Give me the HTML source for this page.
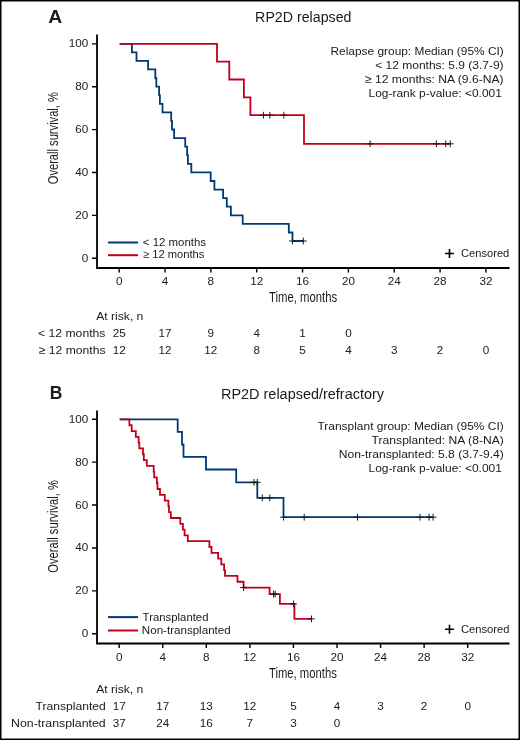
<!DOCTYPE html>
<html><head><meta charset="utf-8"><title>KM</title><style>html,body{margin:0;padding:0;background:#fff;width:520px;height:740px;overflow:hidden}svg{display:block;will-change:transform}</style></head><body>
<svg width="520" height="740" viewBox="0 0 520 740" font-family='"Liberation Sans", sans-serif' fill="#1a1a1a">
<rect x="0" y="0" width="520" height="740" fill="#fff"/>
<rect x="0.75" y="0.75" width="518.5" height="738.5" fill="none" stroke="#000" stroke-width="1.5"/>
<path d="M97.0 34.50V268.90M96.10 268.00H509.5" stroke="#000" stroke-width="1.8" fill="none"/>
<path d="M97.00 258.20H92.00M97.00 215.34H92.00M97.00 172.48H92.00M97.00 129.62H92.00M97.00 86.76H92.00M97.00 43.90H92.00M119.20 268.00V272.50M165.04 268.00V272.50M210.88 268.00V272.50M256.72 268.00V272.50M302.56 268.00V272.50M348.40 268.00V272.50M394.24 268.00V272.50M440.08 268.00V272.50M485.92 268.00V272.50" stroke="#000" stroke-width="1.4" fill="none"/>
<text x="88.30" y="261.70" font-size="11.7" text-anchor="end">0</text>
<text x="88.30" y="218.84" font-size="11.7" text-anchor="end">20</text>
<text x="88.30" y="175.98" font-size="11.7" text-anchor="end">40</text>
<text x="88.30" y="133.12" font-size="11.7" text-anchor="end">60</text>
<text x="88.30" y="90.26" font-size="11.7" text-anchor="end">80</text>
<text x="88.30" y="47.40" font-size="11.7" text-anchor="end">100</text>
<text x="119.20" y="285.40" font-size="11.7" text-anchor="middle">0</text>
<text x="165.04" y="285.40" font-size="11.7" text-anchor="middle">4</text>
<text x="210.88" y="285.40" font-size="11.7" text-anchor="middle">8</text>
<text x="256.72" y="285.40" font-size="11.7" text-anchor="middle">12</text>
<text x="302.56" y="285.40" font-size="11.7" text-anchor="middle">16</text>
<text x="348.40" y="285.40" font-size="11.7" text-anchor="middle">20</text>
<text x="394.24" y="285.40" font-size="11.7" text-anchor="middle">24</text>
<text x="440.08" y="285.40" font-size="11.7" text-anchor="middle">28</text>
<text x="485.92" y="285.40" font-size="11.7" text-anchor="middle">32</text>
<path d="M97.0 410.40V644.40M96.10 643.50H509.5" stroke="#000" stroke-width="1.8" fill="none"/>
<path d="M97.00 633.75H92.00M97.00 590.84H92.00M97.00 547.93H92.00M97.00 505.02H92.00M97.00 462.11H92.00M97.00 419.20H92.00M119.20 643.50V648.00M162.76 643.50V648.00M206.32 643.50V648.00M249.88 643.50V648.00M293.44 643.50V648.00M337.00 643.50V648.00M380.56 643.50V648.00M424.12 643.50V648.00M467.68 643.50V648.00" stroke="#000" stroke-width="1.4" fill="none"/>
<text x="88.30" y="637.25" font-size="11.7" text-anchor="end">0</text>
<text x="88.30" y="594.34" font-size="11.7" text-anchor="end">20</text>
<text x="88.30" y="551.43" font-size="11.7" text-anchor="end">40</text>
<text x="88.30" y="508.52" font-size="11.7" text-anchor="end">60</text>
<text x="88.30" y="465.61" font-size="11.7" text-anchor="end">80</text>
<text x="88.30" y="422.70" font-size="11.7" text-anchor="end">100</text>
<text x="119.20" y="660.90" font-size="11.7" text-anchor="middle">0</text>
<text x="162.76" y="660.90" font-size="11.7" text-anchor="middle">4</text>
<text x="206.32" y="660.90" font-size="11.7" text-anchor="middle">8</text>
<text x="249.88" y="660.90" font-size="11.7" text-anchor="middle">12</text>
<text x="293.44" y="660.90" font-size="11.7" text-anchor="middle">16</text>
<text x="337.00" y="660.90" font-size="11.7" text-anchor="middle">20</text>
<text x="380.56" y="660.90" font-size="11.7" text-anchor="middle">24</text>
<text x="424.12" y="660.90" font-size="11.7" text-anchor="middle">28</text>
<text x="467.68" y="660.90" font-size="11.7" text-anchor="middle">32</text>
<text x="48.15" y="22.70" font-size="17.5" font-weight="bold" textLength="13.99" lengthAdjust="spacingAndGlyphs">A</text>
<text x="255.13" y="21.50" font-size="14" textLength="96.32" lengthAdjust="spacingAndGlyphs">RP2D relapsed</text>
<text x="330.47" y="54.50" font-size="11.5" textLength="173.29" lengthAdjust="spacingAndGlyphs">Relapse group: Median (95% CI)</text>
<text x="375.28" y="68.70" font-size="11.5" textLength="128.31" lengthAdjust="spacingAndGlyphs">&lt; 12 months: 5.9 (3.7-9)</text>
<text x="364.94" y="82.80" font-size="11.5" textLength="138.69" lengthAdjust="spacingAndGlyphs">≥ 12 months: NA (9.6-NA)</text>
<text x="368.56" y="97.20" font-size="11.5" textLength="133.29" lengthAdjust="spacingAndGlyphs">Log-rank p-value: &lt;0.001</text>
<text x="269.10" y="302.40" font-size="14.1" textLength="68.09" lengthAdjust="spacingAndGlyphs">Time, months</text>
<text x="96.30" y="319.60" font-size="11.2" textLength="47.03" lengthAdjust="spacingAndGlyphs">At risk, n</text>
<text x="38.08" y="337.10" font-size="11.6" textLength="67.33" lengthAdjust="spacingAndGlyphs">&lt; 12 months</text>
<text x="38.74" y="353.70" font-size="11.6" textLength="66.77" lengthAdjust="spacingAndGlyphs">≥ 12 months</text>
<text x="142.88" y="246.10" font-size="11.0" textLength="63.18" lengthAdjust="spacingAndGlyphs">&lt; 12 months</text>
<text x="143.05" y="258.30" font-size="11.0" textLength="61.33" lengthAdjust="spacingAndGlyphs">≥ 12 months</text>
<text x="461.10" y="256.90" font-size="11.2" textLength="48.16" lengthAdjust="spacingAndGlyphs">Censored</text>
<text x="49.75" y="398.80" font-size="17.5" font-weight="bold" textLength="12.64" lengthAdjust="spacingAndGlyphs">B</text>
<text x="221.01" y="398.80" font-size="14" textLength="163.00" lengthAdjust="spacingAndGlyphs">RP2D relapsed/refractory</text>
<text x="317.44" y="429.80" font-size="11.5" textLength="186.29" lengthAdjust="spacingAndGlyphs">Transplant group: Median (95% CI)</text>
<text x="371.64" y="443.80" font-size="11.5" textLength="132.14" lengthAdjust="spacingAndGlyphs">Transplanted: NA (8-NA)</text>
<text x="338.75" y="457.70" font-size="11.5" textLength="165.05" lengthAdjust="spacingAndGlyphs">Non-transplanted: 5.8 (3.7-9.4)</text>
<text x="368.56" y="472.40" font-size="11.5" textLength="133.29" lengthAdjust="spacingAndGlyphs">Log-rank p-value: &lt;0.001</text>
<text x="269.00" y="677.60" font-size="14.1" textLength="67.79" lengthAdjust="spacingAndGlyphs">Time, months</text>
<text x="96.25" y="692.50" font-size="11.2" textLength="46.98" lengthAdjust="spacingAndGlyphs">At risk, n</text>
<text x="35.44" y="710.20" font-size="11.6" textLength="70.35" lengthAdjust="spacingAndGlyphs">Transplanted</text>
<text x="11.04" y="726.90" font-size="11.6" textLength="94.71" lengthAdjust="spacingAndGlyphs">Non-transplanted</text>
<text x="142.64" y="621.10" font-size="11.0" textLength="65.90" lengthAdjust="spacingAndGlyphs">Transplanted</text>
<text x="141.85" y="634.00" font-size="11.0" textLength="88.83" lengthAdjust="spacingAndGlyphs">Non-transplanted</text>
<text x="461.00" y="632.60" font-size="11.2" textLength="48.46" lengthAdjust="spacingAndGlyphs">Censored</text>
<text transform="translate(58.20 184.26) rotate(-90)" x="0" y="0" font-size="15" textLength="92.19" lengthAdjust="spacingAndGlyphs">Overall survival, %</text>
<text transform="translate(58.20 572.66) rotate(-90)" x="0" y="0" font-size="15" textLength="92.50" lengthAdjust="spacingAndGlyphs">Overall survival, %</text>
<path d="M108 242.5H138" stroke="#003a72" stroke-width="2"/>
<path d="M108 255.2H138" stroke="#c2001e" stroke-width="2"/>
<path d="M108 617.1H138" stroke="#003a72" stroke-width="2"/>
<path d="M108 630.5H138" stroke="#c2001e" stroke-width="2"/>
<path d="M449.5 249.00V258.00M445 253.50H454" stroke="#000" stroke-width="1.6"/>
<path d="M449.5 624.70V633.70M445 629.20H454" stroke="#000" stroke-width="1.6"/>
<text x="119.20" y="337.10" font-size="11.7" text-anchor="middle">25</text>
<text x="165.04" y="337.10" font-size="11.7" text-anchor="middle">17</text>
<text x="210.88" y="337.10" font-size="11.7" text-anchor="middle">9</text>
<text x="256.72" y="337.10" font-size="11.7" text-anchor="middle">4</text>
<text x="302.56" y="337.10" font-size="11.7" text-anchor="middle">1</text>
<text x="348.40" y="337.10" font-size="11.7" text-anchor="middle">0</text>
<text x="119.20" y="353.70" font-size="11.7" text-anchor="middle">12</text>
<text x="165.04" y="353.70" font-size="11.7" text-anchor="middle">12</text>
<text x="210.88" y="353.70" font-size="11.7" text-anchor="middle">12</text>
<text x="256.72" y="353.70" font-size="11.7" text-anchor="middle">8</text>
<text x="302.56" y="353.70" font-size="11.7" text-anchor="middle">5</text>
<text x="348.40" y="353.70" font-size="11.7" text-anchor="middle">4</text>
<text x="394.24" y="353.70" font-size="11.7" text-anchor="middle">3</text>
<text x="440.08" y="353.70" font-size="11.7" text-anchor="middle">2</text>
<text x="485.92" y="353.70" font-size="11.7" text-anchor="middle">0</text>
<text x="119.20" y="710.20" font-size="11.7" text-anchor="middle">17</text>
<text x="162.76" y="710.20" font-size="11.7" text-anchor="middle">17</text>
<text x="206.32" y="710.20" font-size="11.7" text-anchor="middle">13</text>
<text x="249.88" y="710.20" font-size="11.7" text-anchor="middle">12</text>
<text x="293.44" y="710.20" font-size="11.7" text-anchor="middle">5</text>
<text x="337.00" y="710.20" font-size="11.7" text-anchor="middle">4</text>
<text x="380.56" y="710.20" font-size="11.7" text-anchor="middle">3</text>
<text x="424.12" y="710.20" font-size="11.7" text-anchor="middle">2</text>
<text x="467.68" y="710.20" font-size="11.7" text-anchor="middle">0</text>
<text x="119.20" y="726.90" font-size="11.7" text-anchor="middle">37</text>
<text x="162.76" y="726.90" font-size="11.7" text-anchor="middle">24</text>
<text x="206.32" y="726.90" font-size="11.7" text-anchor="middle">16</text>
<text x="249.88" y="726.90" font-size="11.7" text-anchor="middle">7</text>
<text x="293.44" y="726.90" font-size="11.7" text-anchor="middle">3</text>
<text x="337.00" y="726.90" font-size="11.7" text-anchor="middle">0</text>
<path d="M119.70 43.80H131.90V52.40H136.50V60.90H148.10V69.40H155.30V78.00H156.30V86.60H159.10V95.20H159.90V103.80H162.50V112.30H171.20V120.90H172.00V129.50H174.10V138.10H185.20V146.70H187.10V155.20H187.90V163.80H191.30V172.40H210.70V181.00H214.40V189.60H223.10V198.10H226.80V206.70H230.90V215.30H242.70V223.90H288.80V232.50H292.50V241.00H303.40" stroke="#003a72" stroke-width="1.8" fill="none"/>
<path d="M119.70 43.80H217.00V61.60H229.30V79.50H243.90V97.30H250.40V115.20H304.00V143.80H450.20" stroke="#c2001e" stroke-width="1.8" fill="none"/>
<path d="M119.70 419.30H177.70V431.90H182.00V444.50H183.50V456.90H206.00V469.50H236.20V482.30H257.30V497.90H283.50V517.20H433.10" stroke="#003a72" stroke-width="1.8" fill="none"/>
<path d="M119.70 419.30H129.40V425.25H131.70V431.04H135.80V436.84H138.60V442.64H139.30V448.44H143.00V454.23H143.80V460.03H146.80V465.83H153.70V471.62H154.20V477.42H156.90V483.22H157.50V489.01H160.00V494.81H164.80V500.61H168.40V506.40H169.00V512.20H170.80V518.00H180.30V523.80H182.90V529.59H184.60V535.39H187.80V541.19H209.40V546.98H211.50V552.78H218.10V558.58H221.30V564.38H224.10V570.17H225.00V575.97H237.50V581.77H243.60V587.56H269.60V594.10H279.90V603.90H294.40V618.90H311.60" stroke="#c2001e" stroke-width="1.8" fill="none"/>
<path d="M292.50 237.60V244.40M289.10 241.00H295.90M303.30 237.60V244.40M299.90 241.00H306.70M263.40 111.80V118.60M260.00 115.20H266.80M269.80 111.80V118.60M266.40 115.20H273.20M283.80 111.80V118.60M280.40 115.20H287.20M370.10 140.40V147.20M366.70 143.80H373.50M436.40 140.40V147.20M433.00 143.80H439.80M445.80 140.40V147.20M442.40 143.80H449.20M450.20 140.40V147.20M446.80 143.80H453.60M254.00 478.90V485.70M250.60 482.30H257.40M257.30 478.90V485.70M253.90 482.30H260.70M262.30 494.50V501.30M258.90 497.90H265.70M269.80 494.50V501.30M266.40 497.90H273.20M283.50 513.80V520.60M280.10 517.20H286.90M304.20 513.80V520.60M300.80 517.20H307.60M357.50 513.80V520.60M354.10 517.20H360.90M420.00 513.80V520.60M416.60 517.20H423.40M429.10 513.80V520.60M425.70 517.20H432.50M433.10 513.80V520.60M429.70 517.20H436.50M243.60 584.16V590.96M240.20 587.56H247.00M273.50 590.70V597.50M270.10 594.10H276.90M275.10 590.70V597.50M271.70 594.10H278.50M293.60 600.50V607.30M290.20 603.90H297.00M311.50 615.50V622.30M308.10 618.90H314.90" stroke="#1a1a1a" stroke-width="1.0" fill="none"/>
</svg>
</body></html>
